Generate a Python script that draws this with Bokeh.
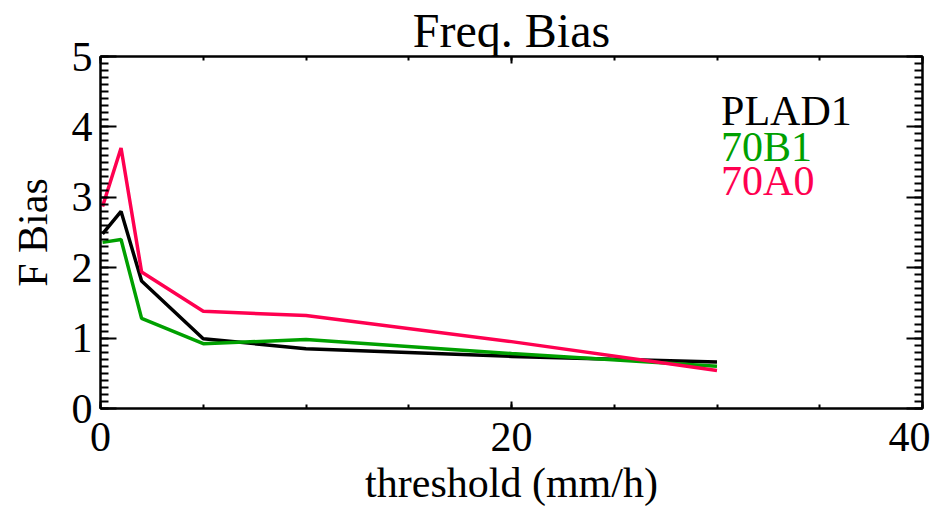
from bokeh.plotting import figure
from bokeh.models import Range1d, SingleIntervalTicker, LinearAxis, Label
from bokeh.embed import file_html
from bokeh.resources import INLINE

# Data
thresholds = [0.1, 1, 2, 5, 10, 20, 30]
plad1 = [2.48, 2.80, 1.81, 0.99, 0.85, 0.74, 0.66]
b70b1 = [2.36, 2.40, 1.28, 0.92, 0.98, 0.78, 0.60]
a70a0 = [2.87, 3.70, 1.94, 1.38, 1.32, 0.95, 0.54]
series_names = ["PLAD1", "70B1", "70A0"]
series_colors = ["#000000", "#00A000", "#FF0050"]

FONT = "Liberation Serif"

p = figure(width=930, height=510, output_backend="svg", toolbar_location=None,
           x_range=Range1d(0, 40), y_range=Range1d(0, 5),
           title="Freq. Bias",
           min_border_left=100, min_border_right=8,
           min_border_top=56, min_border_bottom=102)

p.background_fill_color = "white"
p.border_fill_color = "white"
p.outline_line_color = "black"
p.outline_line_width = 2
p.grid.visible = False

p.title.text_font = FONT
p.title.text_font_size = "48px"
p.title.text_font_style = "normal"
p.title.text_color = "black"
p.title.align = "center"
p.title.standoff = 0
p.title.offset = 0

xt = SingleIntervalTicker(interval=20, num_minor_ticks=4)
yt = SingleIntervalTicker(interval=1, num_minor_ticks=10)

def style_axis(ax, major_len, minor_len):
    ax.axis_line_color = "black"
    ax.axis_line_width = 2
    ax.major_tick_in = major_len
    ax.major_tick_out = 0
    ax.minor_tick_in = minor_len
    ax.minor_tick_out = 0
    ax.major_tick_line_width = 2
    ax.minor_tick_line_width = 2
    ax.major_tick_line_color = "black"
    ax.minor_tick_line_color = "black"
    ax.major_label_text_font = FONT
    ax.major_label_text_font_size = "42px"
    ax.major_label_text_color = "black"
    ax.axis_label_text_font = FONT
    ax.axis_label_text_font_size = "42px"
    ax.axis_label_text_font_style = "normal"
    ax.axis_label_text_color = "black"

p.xaxis.ticker = xt
p.yaxis.ticker = yt
style_axis(p.xaxis[0], 7, 4)
style_axis(p.yaxis[0], 16, 8)
p.xaxis.axis_label = "threshold (mm/h)"
p.yaxis.axis_label = "F Bias"
p.xaxis.major_label_standoff = 14
p.xaxis.axis_label_standoff = 6
p.yaxis.major_label_standoff = 8
p.yaxis.axis_label_standoff = 13

top_ax = LinearAxis(ticker=SingleIntervalTicker(interval=20, num_minor_ticks=4))
right_ax = LinearAxis(ticker=SingleIntervalTicker(interval=1, num_minor_ticks=10))
for ax, ml, mn in ((top_ax, 7, 4), (right_ax, 16, 8)):
    style_axis(ax, ml, mn)
    ax.major_label_text_font_size = "1px"
    ax.major_label_text_color = None
    ax.major_label_standoff = 0
p.add_layout(top_ax, "above")
p.add_layout(right_ax, "right")

for vals, name, col in zip([plad1, b70b1, a70a0], series_names, series_colors):
    p.line(thresholds, vals, line_color=col, line_width=3.5)

legend_x = 30.2
legend_y = [4.23, 3.72, 3.23]
for name, col, ly in zip(series_names, series_colors, legend_y):
    p.add_layout(Label(x=legend_x, y=ly, text=name, text_color=col,
                       text_font=FONT, text_font_size="42px",
                       text_baseline="middle"))

open("out.html", "w").write(file_html(p, INLINE))
